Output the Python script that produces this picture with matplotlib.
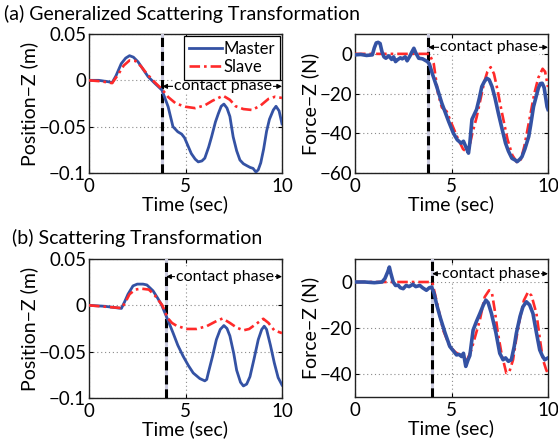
import matplotlib
matplotlib.use("Agg")
import matplotlib.pyplot as plt

plt.rcParams['font.family'] = ['Lato', 'DejaVu Sans']

# ---------------- data ----------------
# (a) position
a_pos_m_t = [0, 0.5, 1.0, 1.2, 1.4, 1.67, 1.9, 2.1, 2.3, 2.54, 2.8, 3.06, 3.4, 3.78, 4.1, 4.35,
             4.6, 4.8, 4.95, 5.3, 5.5, 5.66, 5.85, 6.0, 6.2, 6.35, 6.55, 6.7, 6.85, 6.99, 7.15, 7.3,
             7.47, 7.65, 7.82, 8.0, 8.17, 8.35, 8.5, 8.65, 8.77, 8.9, 9.05, 9.2, 9.35, 9.55, 9.69,
             9.85, 10]
a_pos_m = [0, 0, -0.0015, -0.0025, 0.005, 0.018, 0.024, 0.0266, 0.025, 0.020, 0.012, 0.004,
           -0.003, -0.0105, -0.0285, -0.05, -0.0555, -0.058, -0.062, -0.079, -0.085, -0.088,
           -0.087, -0.084, -0.072, -0.061, -0.045, -0.036, -0.028, -0.0256, -0.030, -0.039,
           -0.061, -0.076, -0.086, -0.090, -0.092, -0.094, -0.095, -0.099, -0.0965, -0.089,
           -0.074, -0.055, -0.042, -0.032, -0.028, -0.033, -0.047]
a_pos_s_t = [0, 0.6, 1.2, 1.5, 1.8, 2.1, 2.4, 2.7, 3.0, 3.4, 3.8, 4.1, 4.5, 5.0, 5.5, 6.0, 6.4,
             6.95, 7.3, 7.6, 8.0, 8.45, 8.9, 9.3, 9.64, 10]
a_pos_s = [0, -0.001, -0.003, 0.006, 0.016, 0.0215, 0.021, 0.015, 0.007, -0.002, -0.010,
           -0.018, -0.025, -0.0285, -0.030, -0.027, -0.022, -0.0166, -0.021, -0.028, -0.031,
           -0.032, -0.027, -0.020, -0.0177, -0.019]

# (a) force
a_f_m_t = [0, 0.3, 0.6, 0.9, 1.0, 1.1, 1.2, 1.3, 1.4, 1.5, 1.6, 1.75, 1.9, 2.0, 2.1, 2.2, 2.35,
           2.45, 2.6, 2.7, 2.85, 2.95, 3.05, 3.15, 3.3, 3.5, 3.75, 3.85, 4.0, 4.25, 4.5, 4.85,
           5.1, 5.3, 5.5, 5.62, 5.75, 5.88, 5.95, 6.06, 6.3, 6.45, 6.57, 6.7, 6.83, 6.95, 7.1,
           7.25, 7.43, 7.6, 7.8, 7.95, 8.13, 8.3, 8.4, 8.55, 8.65, 8.8, 9.0, 9.1, 9.25, 9.4, 9.5,
           9.6, 9.7, 9.8, 9.95, 10]
a_f_m = [-0.5, -0.3, -0.8, -0.5, 3, 5.5, 5.8, 5.2, 1, -1.5, -2.2, -1, -2.8, -1.5, -3.9, -3.0,
         -2.0, -2.5, -1.5, -3.5, -1.0, 1.0, 2.8, 0.5, -2.2, -2.5, -3.9, -5, -9.8, -17, -24.9,
         -34, -40, -43.3, -45, -44, -47, -50, -45, -33, -28, -22, -16.5, -14, -12.3, -13, -16.5,
         -22, -30, -37, -45, -49, -52.6, -53.5, -54.3, -53, -51.8, -48, -41.7, -36, -26.6, -21,
         -17.3, -15, -14.8, -17, -26.6, -28]
a_f_s_t = [0, 3.85, 4.08, 4.3, 4.5, 4.75, 5.0, 5.3, 5.6, 5.75, 5.9, 6.08, 6.3, 6.5, 6.7, 6.86,
           7.03, 7.2, 7.38, 7.6, 7.9, 8.15, 8.42, 8.6, 8.77, 9.0, 9.29, 9.5, 9.72, 9.85, 10]
a_f_s = [0, 0, -5, -20, -27, -29, -35, -42, -48, -49, -48, -40, -32, -23, -14, -9, -6.7, -10,
         -18, -29, -43, -51, -55, -53, -46.7, -35, -20, -12, -7.5, -9, -16.7]

# (b) position
b_pos_m_t = [0, 0.8, 1.68, 1.85, 2.02, 2.28, 2.5, 2.8, 3.0, 3.15, 3.32, 3.55, 3.75, 4.07, 4.36,
             4.6, 4.88, 5.15, 5.4, 5.74, 6.0, 6.1, 6.18, 6.4, 6.6, 6.8, 6.99, 7.15, 7.3, 7.5,
             7.65, 7.85, 8.0, 8.17, 8.34, 8.55, 8.77, 8.95, 9.08, 9.2, 9.4, 9.6, 9.8, 10]
b_pos_m = [0, -0.001, -0.0033, 0.004, 0.012, 0.021, 0.0229, 0.0229, 0.022, 0.019, 0.0156,
           0.008, 0.001, -0.015, -0.03, -0.043, -0.055, -0.065, -0.073, -0.079, -0.0815, -0.08,
           -0.073, -0.055, -0.037, -0.026, -0.0218, -0.025, -0.033, -0.052, -0.07, -0.083,
           -0.087, -0.085, -0.077, -0.058, -0.037, -0.026, -0.0225, -0.026, -0.043, -0.062,
           -0.078, -0.086]
b_pos_s_t = [0, 1.7, 1.9, 2.1, 2.4, 2.7, 3.1, 3.4, 3.8, 4.07, 4.3, 4.53, 5.05, 5.57, 6.1, 6.6,
             6.92, 7.3, 7.65, 8.0, 8.3, 8.6, 9.03, 9.3, 9.6, 10]
b_pos_s = [0, -0.003, 0.004, 0.012, 0.017, 0.018, 0.017, 0.011, 0.0, -0.0135, -0.019, -0.022,
           -0.0255, -0.0255, -0.0225, -0.017, -0.0142, -0.019, -0.024, -0.027, -0.0255, -0.021,
           -0.0145, -0.019, -0.027, -0.030]

# (b) force
b_f_m_t = [0, 0.5, 1.0, 1.4, 1.55, 1.7, 1.78, 1.85, 1.98, 2.1, 2.24, 2.35, 2.5, 2.65, 2.8, 3.0,
           3.15, 3.36, 3.5, 3.7, 3.85, 3.97, 4.1, 4.22, 4.4, 4.66, 4.91, 5.1, 5.26, 5.4, 5.52,
           5.62, 5.74, 5.85, 5.95, 6.12, 6.3, 6.47, 6.65, 6.78, 6.9, 7.07, 7.3, 7.5, 7.67, 7.8,
           7.95, 8.1, 8.25, 8.36, 8.55, 8.7, 8.88, 9.05, 9.22, 9.4, 9.57, 9.7, 9.83, 10]
b_f_m = [0, 0, -0.3, 0, 1.5, 4.5, 6.5, 4, 0, -1.5, -1.4, -2.5, -2.9, -1.5, -2.0, -1.0, -2.0,
         -1.5, -2.5, -3.6, -2.5, -2.2, -5, -9.4, -15, -22, -28, -30, -31.7, -31.5, -32.4, -31,
         -36.7, -34, -32, -20.9, -17, -13.7, -10, -7.9, -9, -13.7, -22, -31, -33.8, -33, -34.5,
         -33.8, -28, -22.3, -15, -10.8, -8.6, -10, -13.7, -22, -29.5, -32, -33.8, -33]
b_f_s_t = [0, 4.0, 4.22, 4.57, 4.91, 5.2, 5.43, 5.65, 5.78, 6.03, 6.25, 6.47, 6.72, 6.95, 7.1,
           7.24, 7.4, 7.59, 7.84, 8.0, 8.19, 8.35, 8.53, 8.75, 8.97, 9.15, 9.4, 9.6, 9.74, 9.9, 10]
b_f_s = [0, 0, -8, -21, -28, -30.5, -31.7, -33, -34.5, -29.5, -23, -16.5, -6.5, -3.6, -5, -12.2,
         -22, -31, -39.6, -39, -33.8, -25, -16.5, -8, -4.3, -6, -13.7, -26, -33.8, -38, -40]

contact_a = 3.8
contact_b = 4.0
titles = ["(a) Generalized Scattering Transformation", "(b) Scattering Transformation"]
x_ticks = [0, 5, 10]
pos_ticks = [-0.1, -0.05, 0, 0.05]
pos_ticklabels = ["\u22120.1", "\u22120.05", "0", "0.05"]
fa_ticks = [-60, -40, -20, 0]
fb_ticks = [-40, -20, 0]

# ---------------- styling ----------------
BLUE = '#3452a4'
RED = '#ff2a2a'
FS_TICK = 13.5
FS_LAB = 14
FS_TITLE = 14
FS_ANN = 11.5
FS_LEG = 12

fig = plt.figure(figsize=(5.58, 4.45), dpi=100)
W, H = 558, 445


def add_ax(l, t, r, b):
    return fig.add_axes([l / W, 1 - b / H, (r - l) / W, (b - t) / H])


axes = [add_ax(89, 34, 282, 173), add_ax(355, 34, 548, 173),
        add_ax(89, 259, 282, 398), add_ax(355, 259, 548, 397)]


def style(ax, yticks, ylim, yticklabels=None):
    ax.set_xlim(0, 10)
    ax.set_ylim(*ylim)
    ax.set_xticks(x_ticks)
    ax.set_yticks(yticks)
    if yticklabels is not None:
        ax.set_yticklabels(yticklabels)
    ax.tick_params(direction='in', length=3, width=0.8, labelsize=FS_TICK, top=True, right=True)
    ax.tick_params(axis='y', pad=2)
    ax.tick_params(axis='x', pad=3.5)
    ax.grid(True, color='#8a8a8a', linestyle=(0, (1, 2.5)), linewidth=0.8)
    for s in ax.spines.values():
        s.set_linewidth(1.0)
        s.set_color('#222222')
    ax.set_xlabel("Time (sec)", fontsize=FS_LAB, labelpad=0.5)


def contact(ax, tc, ytext):
    ax.axvline(tc, color='#ccccdf', lw=2.2, zorder=3)
    ax.axvline(tc, color='black', lw=2.2, linestyle=(0, (3.0, 1.6)), zorder=3)
    ax.annotate('', xy=(tc, ytext), xytext=(10, ytext),
                arrowprops=dict(arrowstyle='<|-|>', color='black', lw=0.8,
                                shrinkA=0, shrinkB=0, mutation_scale=7), zorder=4)
    ax.text((tc + 10) / 2 + 0.05, ytext, "contact phase", fontsize=FS_ANN, ha='center', va='center',
            bbox=dict(facecolor='white', edgecolor='none', pad=0.6), zorder=5)


ax = axes[0]
ax.plot(a_pos_m_t, a_pos_m, color=BLUE, lw=2.0, label='Master', zorder=6)
ax.plot(a_pos_s_t, a_pos_s, color=RED, lw=1.9, linestyle=(0, (4, 1.5, 1, 1.5)), label='Slave', zorder=7)
style(ax, pos_ticks, (-0.1, 0.05), pos_ticklabels)
contact(ax, contact_a, -0.0065)
ax.set_ylabel("Position\u2212Z (m)", fontsize=FS_LAB, labelpad=0)
leg = ax.legend(loc='upper right', fontsize=FS_LEG, borderaxespad=0.1, handlelength=2.0,
                handletextpad=0.1, labelspacing=0.15, borderpad=0.3, fancybox=False, framealpha=1)
leg.get_frame().set_edgecolor('black')
leg.get_frame().set_linewidth(0.9)
leg.set_zorder(10)

ax = axes[1]
ax.plot(a_f_s_t, a_f_s, color=RED, lw=1.9, linestyle=(0, (4, 1.5, 1, 1.5)), zorder=5)
ax.plot(a_f_m_t, a_f_m, color=BLUE, lw=2.6, zorder=6)
style(ax, fa_ticks, (-60, 10))
contact(ax, contact_a, 3.3)
ax.set_ylabel("Force\u2212Z (N)", fontsize=FS_LAB, labelpad=0)

ax = axes[2]
ax.plot(b_pos_m_t, b_pos_m, color=BLUE, lw=2.0, zorder=6)
ax.plot(b_pos_s_t, b_pos_s, color=RED, lw=1.9, linestyle=(0, (4, 1.5, 1, 1.5)), zorder=7)
style(ax, pos_ticks, (-0.1, 0.05), pos_ticklabels)
contact(ax, contact_b, 0.031)
ax.set_ylabel("Position\u2212Z (m)", fontsize=FS_LAB, labelpad=0)

ax = axes[3]
ax.plot(b_f_s_t, b_f_s, color=RED, lw=1.9, linestyle=(0, (4, 1.5, 1, 1.5)), zorder=5)
ax.plot(b_f_m_t, b_f_m, color=BLUE, lw=2.6, zorder=6)
style(ax, fb_ticks, (-50, 10))
contact(ax, contact_b, 3.6)
ax.set_ylabel("Force\u2212Z (N)", fontsize=FS_LAB, labelpad=0)

fig.text(4 / W, 1 - 14 / H, titles[0], fontsize=FS_TITLE, ha='left', va='center')
fig.text(12 / W, 1 - 238 / H, titles[1], fontsize=FS_TITLE, ha='left', va='center')

fig.savefig("out.png", dpi=100)
